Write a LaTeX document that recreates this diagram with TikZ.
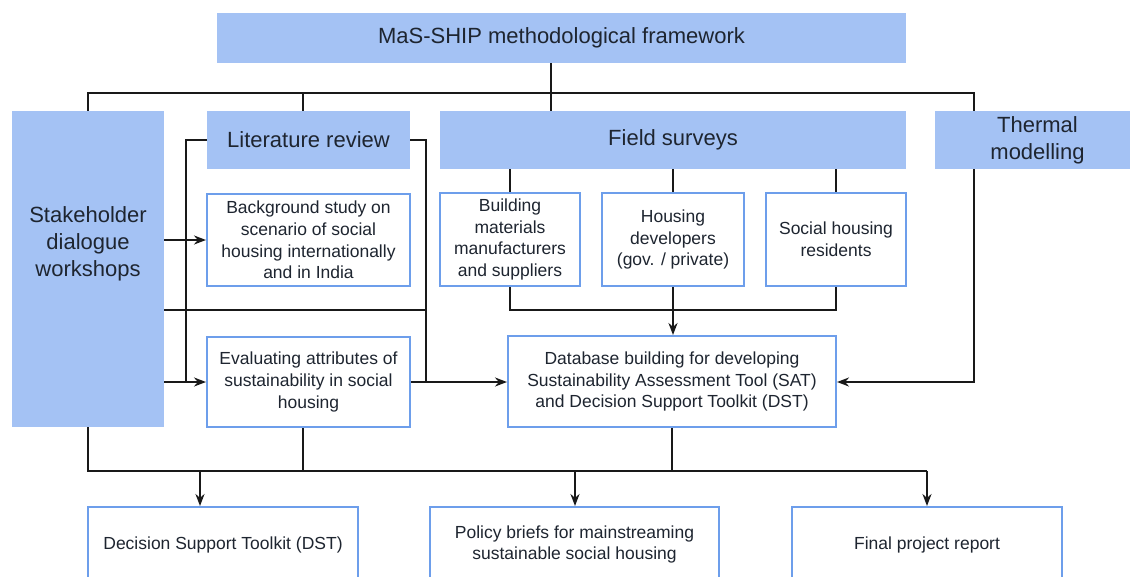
\documentclass[tikz,border=0pt]{standalone}
\usepackage{fontspec}
\setmainfont{Liberation Sans}
\usetikzlibrary{arrows.meta}
\definecolor{boxblue}{HTML}{A4C2F4}
\definecolor{edgeblue}{HTML}{6D9EEB}
\definecolor{ink}{HTML}{1E2530}
\tikzset{
  bluebox/.style={fill=boxblue, draw=none, inner sep=0pt, align=center, text=ink,
    font=\fontsize{22}{27}\selectfont},
  whitebox/.style={fill=white, draw=edgeblue, line width=2pt, inner sep=0pt, align=center,
    text=ink, font=\fontsize{17.5}{21.7}\selectfont},
  conn/.style={draw=black!90, line width=2.2pt},
  arr/.style={conn, -{Stealth[length=12pt,width=9pt]}}
}
\begin{document}
\begin{tikzpicture}[x=1pt,y=-1pt]
\useasboundingbox (0,0) rectangle (1130,576);
\clip (0,0) rectangle (1130,576);
\fill[white] (0,0) rectangle (1130,576);

% top row
\node[bluebox, minimum width=689, minimum height=50] (top) at (561.5,38) {MaS-SHIP methodological framework};
\node[bluebox, minimum width=152, minimum height=316] (stake) at (88,269) {};
\node[bluebox, fill=none] (staketext) at (88,244) {Stakeholder\\dialogue\\workshops};
\node[bluebox, minimum width=203, minimum height=58] (lit) at (308.5,140) {Literature review};
\node[bluebox, minimum width=466, minimum height=58] (field) at (673,140) {Field surveys};
\node[bluebox, minimum width=205, minimum height=58] (thermal) at (1037.5,140) {Thermal\\modelling};

% second row
\node[whitebox, minimum width=203, minimum height=92] (bg) at (308.5,240) {Background study on\\scenario of social\\housing internationally\\and in India};
\node[whitebox, minimum width=140, minimum height=93] (s1) at (510,239.5) {Building\\materials\\manufacturers\\and suppliers};
\node[whitebox, minimum width=142, minimum height=93] (s2) at (673,239.5) {Housing\\developers\\(gov. / private)};
\node[whitebox, minimum width=140, minimum height=93] (s3) at (836,239.5) {Social housing\\residents};

% third row
\node[whitebox, minimum width=203, minimum height=90] (eval) at (308.5,382) {Evaluating attributes of\\sustainability in social\\housing};
\node[whitebox, minimum width=328, minimum height=91] (db) at (672,381.5) {Database building for developing\\Sustainability Assessment Tool (SAT)\\and Decision Support Toolkit (DST)};

% outputs
\node[whitebox, minimum width=270, minimum height=75] (dst) at (223,544.5) {Decision Support Toolkit (DST)};
\node[whitebox, minimum width=289, minimum height=75] (pol) at (574.5,544.5) {Policy briefs for mainstreaming\\sustainable social housing};
\node[whitebox, minimum width=270, minimum height=75] (fin) at (927,544.5) {Final project report};

% helper coordinates
\coordinate (tb) at (551,93);
\coordinate (bL) at (88,93);
\coordinate (bR) at (974,93);
\coordinate (tl) at (303,93);
\coordinate (jL) at (186,382);
\coordinate (jR) at (426,382);
\coordinate (jM) at (426,310);
\coordinate (fb) at (672,310);
\coordinate (bb1) at (88,471);
\coordinate (bb2) at (927,471);
\coordinate (be) at (303,471);
\coordinate (a1) at (200,471);
\coordinate (a2) at (575,471);

% top bus
\draw[conn] (top.south -| tb) -- (tb);
\draw[conn] (stake.north) -- (bL) -- (bR) -- (thermal.north -| bR);
\draw[conn] (tl) -- (lit.north -| tl);
\draw[conn] (tb) -- (field.north -| tb);

% literature review brackets
\draw[conn] (lit.west) -| (jL);
\draw[conn] (lit.east) -| (jR);

% stakeholder links
\draw[arr] (stake.east |- bg.west) -- (bg.west);
\draw[arr] (stake.east |- eval.west) -- (eval.west);
\draw[conn] (stake.east |- jM) -- (jM);

% evaluating -> database
\draw[arr] (eval.east) -- (db.west |- eval.east);

% field surveys
\draw[conn] (field.south -| s1) -- (s1.north);
\draw[conn] (field.south -| s2) -- (s2.north);
\draw[conn] (field.south -| s3) -- (s3.north);
\draw[conn] (s1.south) |- (fb) -| (s3.south);
\draw[arr] (s2.south) -- (db.north -| s2.south);

% thermal -> database
\draw[arr] (thermal.south -| bR) |- (db.east |- eval.east);

% bottom bus
\draw[conn] (stake.south) -- (bb1) -- (bb2);
\draw[conn] (eval.south -| be) -- (be);
\draw[conn] (db.south) -- (db.south |- bb1);
\draw[arr] (a1) -- (dst.north -| a1);
\draw[arr] (a2) -- (pol.north -| a2);
\draw[arr] (bb2) -- (fin.north);
\end{tikzpicture}
\end{document}
